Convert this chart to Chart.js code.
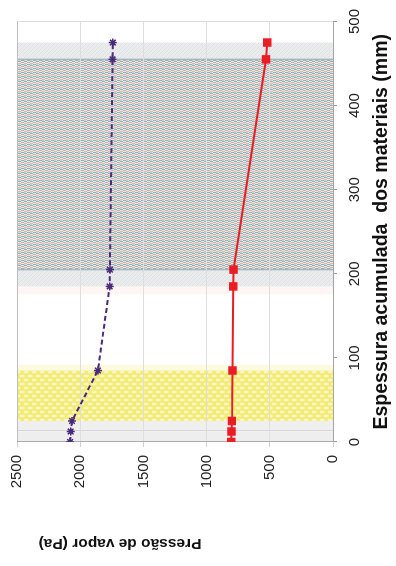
<!DOCTYPE html>
<html lang="pt">
<head>
<meta charset="utf-8">
<script src="https://cdn.jsdelivr.net/npm/chart.js@4.4.1/dist/chart.umd.min.js"></script>
<style>
  html, body { margin: 0; padding: 0; background: #fff; overflow: hidden; }
  /* o gráfico original está rodado 90 graus */
  #caixa {
    position: absolute; left: 0; top: 0;
    width: 566px; height: 396px;
    transform-origin: 0 0;
    transform: translate(0, 566px) rotate(-90deg);
  }
</style>
</head>
<body>
<div id="caixa"><canvas id="grafico" width="566" height="396" style="width:566px;height:396px"></canvas></div>
<script>
// Dados (espessura acumulada em mm, pressões em Pa)
const espessura = [0, 12.5, 25, 85, 185, 205, 455, 475];
const pressaoVapor = [805, 803, 800, 795, 790, 788, 530, 520];
const pressaoSaturacao = [2080, 2075, 2065, 1860, 1767, 1765, 1744, 1742];

const ticksEspessura = [0, 100, 200, 300, 400, 500];
const ticksPressao = [0, 500, 1000, 1500, 2000, 2500];

// limites das camadas de material (mm)
const camadaInicio = [0, 12.5, 25, 185, 205, 455];
const camadaFim = [12.5, 25, 85, 205, 455, 475];

// Cria um padrão de preenchimento a partir de um pequeno ladrilho
function criarPadrao(ctx, w, h, desenhar) {
    const c = document.createElement('canvas');
    c.width = w;
    c.height = h;
    desenhar(c.getContext('2d'));
    return ctx.createPattern(c, 'repeat');
}

function estilosCamadas(ctx) {
    const amarelo = criarPadrao(ctx, 8, 8, g => {
        g.fillStyle = '#f2eb74';
        g.fillRect(0, 0, 8, 8);
        g.fillStyle = '#faf6c8';
        [[2, 2], [6, 6], [6, -2]].forEach(([cx, cy]) => {
            g.beginPath();
            g.ellipse(cx, cy, 1.3, 2.8, 0, 0, Math.PI * 2);
            g.fill();
        });
    });
    const claro = criarPadrao(ctx, 4, 4, g => {
        g.fillStyle = '#ebeef0';
        g.fillRect(0, 0, 4, 4);
        g.fillStyle = '#d9e2e6';
        for (let i = 0; i < 4; i++) g.fillRect(i, i, 1, 1);
        g.fillStyle = '#f1e8e6';
        for (let i = 0; i < 4; i++) g.fillRect(i, (i + 2) % 4, 1, 1);
    });
    const textura = criarPadrao(ctx, 4, 6, g => {
        g.fillStyle = '#eee8e5';
        g.fillRect(0, 0, 4, 6);
        g.fillStyle = '#8eb0b8';
        g.fillRect(0, 0, 1, 3);
        g.fillRect(1, 3, 1, 3);
        g.fillStyle = '#dfb7aa';
        g.fillRect(2, 0, 1, 3);
        g.fillStyle = '#b4b5b4';
        g.fillRect(3, 3, 1, 3);
        g.fillStyle = '#d2d4d3';
        g.fillRect(1, 0, 1, 2);
    });
    return ['#eeeeee', '#efefef', amarelo, claro, textura, claro];
}

// Desenha as camadas de material por trás da grelha
const pluginCamadas = {
    id: 'camadas',
    beforeDraw(chart) {
        const { ctx, chartArea: a, scales: { x } } = chart;
        const estilos = estilosCamadas(ctx);
        ctx.save();
        camadaInicio.forEach((ini, i) => {
            const x0 = x.getPixelForValue(ini);
            const x1 = x.getPixelForValue(camadaFim[i]);
            ctx.fillStyle = estilos[i];
            ctx.fillRect(x0, a.top, x1 - x0, a.bottom - a.top);
        });
        // faixas suaves junto às camadas
        const p0 = x.getPixelForValue(camadaInicio[3]);
        ctx.fillStyle = 'rgba(250, 228, 222, 0.35)';
        ctx.fillRect(p0 - 8, a.top, 8, a.bottom - a.top);
        const p1 = x.getPixelForValue(camadaFim[2]);
        ctx.fillStyle = 'rgba(246, 240, 170, 0.35)';
        ctx.fillRect(p1, a.top, 6, a.bottom - a.top);
        // linhas de separação
        ctx.lineWidth = 1;
        ctx.strokeStyle = '#d6d6d6';
        ctx.beginPath();
        const s = Math.round(x.getPixelForValue(camadaFim[0])) + 0.5;
        ctx.moveTo(s, a.top); ctx.lineTo(s, a.bottom);
        ctx.stroke();
        ctx.strokeStyle = '#a9b8bf';
        ctx.lineWidth = 1.5;
        [camadaInicio[4], camadaFim[4]].forEach(v => {
            const p = x.getPixelForValue(v);
            ctx.beginPath();
            ctx.moveTo(p, a.top); ctx.lineTo(p, a.bottom);
            ctx.stroke();
        });
        ctx.restore();
    },
    afterDraw(chart) {
        // título do eixo das pressões (deslocado como no original)
        const { ctx, chartArea: a } = chart;
        ctx.save();
        ctx.translate(a.left - 101, (a.top + a.bottom) / 2 - 55);
        ctx.rotate(-Math.PI / 2);
        ctx.font = 'bold 15.5px "Liberation Sans", Arial, sans-serif';
        ctx.fillStyle = '#111';
        ctx.textAlign = 'center';
        ctx.textBaseline = 'middle';
        ctx.fillText('Pressão de vapor (Pa)', 0, 0);
        ctx.restore();
    }
};

const fonte = '"Liberation Sans", Arial, sans-serif';

new Chart(document.getElementById('grafico').getContext('2d'), {
    type: 'line',
    data: {
        datasets: [{
            label: 'Pressão de saturação',
            data: espessura.map((e, i) => ({ x: e, y: pressaoSaturacao[i] })),
            borderColor: '#4b2a7b',
            borderWidth: 2,
            borderDash: [5, 3],
            pointStyle: 'star',
            pointRadius: 4,
            pointBorderWidth: 1.5,
            pointBorderColor: '#4b2a7b',
            pointBackgroundColor: '#4b2a7b',
            tension: 0
        }, {
            label: 'Pressão de vapor',
            data: espessura.map((e, i) => ({ x: e, y: pressaoVapor[i] })),
            borderColor: '#ec1c24',
            borderWidth: 2,
            pointStyle: 'rect',
            pointRadius: 6,
            pointBorderWidth: 0,
            pointBackgroundColor: '#ec1c24',
            tension: 0
        }]
    },
    options: {
        responsive: false,
        animation: false,
        layout: { padding: { top: 16, right: 12, bottom: 0, left: 0 } },
        plugins: {
            legend: { display: false },
            tooltip: { enabled: false }
        },
        scales: {
            x: {
                type: 'linear',
                min: 0,
                max: 500,
                afterBuildTicks: s => { s.ticks = ticksEspessura.map(v => ({ value: v })); },
                afterFit: s => { s.height = 63; },
                grid: {
                    color: c => c.tick && c.tick.value === 500 ? '#dddddd' : 'rgba(0,0,0,0)',
                    tickColor: '#9a9a9a',
                    tickLength: 4
                },
                border: { color: '#a4a4a4' },
                ticks: {
                    padding: 9,
                    maxRotation: 0,
                    color: '#222',
                    font: { family: fonte, size: 15 },
                    callback: v => String(v)
                },
                title: {
                    display: true,
                    text: 'Espessura acumulada  dos materiais (mm)',
                    color: '#111',
                    font: { family: fonte, size: 19.5, weight: 'bold' },
                    padding: { top: 6, bottom: 3 }
                }
            },
            y: {
                min: 0,
                max: 2500,
                afterBuildTicks: s => { s.ticks = ticksPressao.map(v => ({ value: v })); },
                afterFit: s => { s.width = 124; },
                grid: {
                    color: c => c.tick && c.tick.value === 2500 ? '#bdbdbd' : '#dedede',
                    tickColor: '#d0d0d0',
                    tickLength: 5
                },
                border: { color: '#ababab' },
                ticks: {
                    padding: 8,
                    color: '#222',
                    font: { family: fonte, size: 15 },
                    callback: v => String(v)
                }
            }
        }
    },
    plugins: [pluginCamadas]
});
</script>
</body>
</html>
